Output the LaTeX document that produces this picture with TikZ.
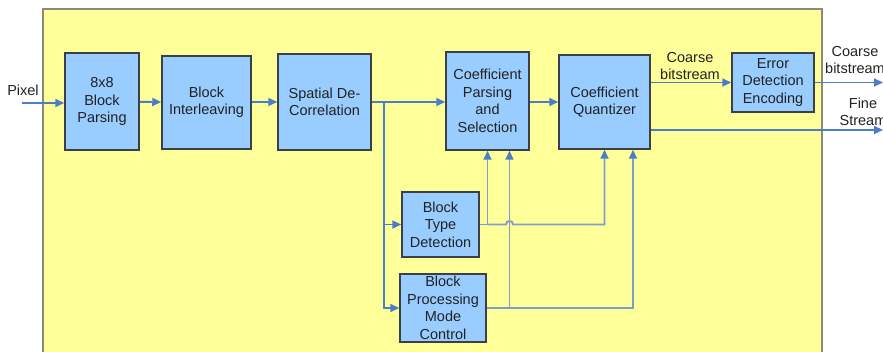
\documentclass[tikz,border=0pt]{standalone}
\usepackage{fontspec}
\setmainfont{Liberation Sans}
\usepackage{tikz}
\usepackage{xcolor}
\usetikzlibrary{arrows.meta,positioning,calc}
\definecolor{pad}{HTML}{FFFF99}
\definecolor{padline}{HTML}{8A8A7A}
\definecolor{stage}{HTML}{99CCFF}
\definecolor{stageline}{HTML}{3A3F48}
\definecolor{wire}{HTML}{4A7EC8}
\definecolor{wireL}{HTML}{7E9FC9}
\definecolor{ink}{HTML}{222222}

\begin{document}
\begin{tikzpicture}[x=1pt,y=1pt,>={Triangle[length=9pt,width=8pt]},
    font=\fontsize{14.5}{17.5}\selectfont,text=ink,
    stagebox/.style={draw=stageline,line width=1.5pt,fill=stage,
                     align=center,inner sep=0pt},
    link/.style={->,wire,line width=1.9pt},
    ctrl/.style={-{Triangle[length=9pt,width=8pt,color=wire]},wireL,line width=1.9pt}]
    \useasboundingbox (0,0) rectangle (883,352);
    % encoder frame
    \draw[padline,line width=1.3pt,fill=pad] (43,-5) rectangle (822,343);
    % main chain
    \node[stagebox,minimum width=74pt,minimum height=97pt] (parse) at (102,250.5) {8x8\\Block\\Parsing};
    \node[stagebox,minimum width=89pt,minimum height=93pt] (inter) at (206.5,249.5) {Block\\Interleaving};
    \node[stagebox,minimum width=93pt,minimum height=96pt] (spatial) at (324.5,250) {Spatial De-\\Correlation};
    \node[stagebox,minimum width=83pt,minimum height=98pt] (cps) at (487.5,251) {Coefficient\\Parsing\\and\\Selection};
    \node[stagebox,minimum width=91pt,minimum height=94pt] (quant) at (604.5,250) {Coefficient\\Quantizer};
    \node[stagebox,minimum width=82pt,minimum height=59pt] (ede) at (773,269.5) {Error\\Detection\\Encoding};
    % side blocks
    \node[stagebox,minimum width=77pt,minimum height=65pt] (btd) at (440.5,127.5) {Block\\Type\\Detection};
    \node[stagebox,minimum width=86pt,minimum height=68pt] (bpmc) at (443,44) {Block\\Processing\\Mode\\Control};
    % labels
    \node[align=center] (pixel) at (23,262) {Pixel};
    \node[align=center] (coarse) at (690,286) {Coarse\\bitstream};
    \node[align=center] (coarseo) at (855,292) {Coarse\\bitstream};
    \node[align=center] (fine) at (863,240) {Fine\\Stream};
    \coordinate (pxin) at (22,249);
    \coordinate (split) at (384,250);
    \coordinate (coarseout) at (883,269.5);
    \coordinate (fineout) at (883,222);
    \coordinate (cpsB) at ([xshift=22pt]cps.south);
    \coordinate (quantB) at ([xshift=28.5pt]quant.south);
    % data path
    \draw[link] (pxin) -- (pxin -| parse.west);
    \draw[link] (parse) -- (inter);
    \draw[link] (inter.east |- spatial) -- (spatial);
    \draw[link] (spatial) -- (spatial -| cps.west);
    \draw[link] (split) |- (btd.west);
    \draw[link] (split) |- (bpmc.west);
    \draw[link] (cps.east |- quant) -- (quant);
    \draw[link] (ede.west -| quant.east) -- (ede.west);
    \draw[link] (ede) -- (coarseout);
    \draw[link] (fineout -| quant.east) -- (fineout);
    % control lines
    \draw[ctrl] (btd.east) -| (cps.south);
    \draw[ctrl] (btd.east -| cps.south) -- ($(btd.east -| cpsB)+(-3.5,0)$)
        arc[start angle=180,end angle=0,radius=3.5pt] -| (quant.south);
    \draw[ctrl] (bpmc.east) -| (cpsB);
    \draw[ctrl] (bpmc.east -| cpsB) -| (quantB);
\end{tikzpicture}
\end{document}
